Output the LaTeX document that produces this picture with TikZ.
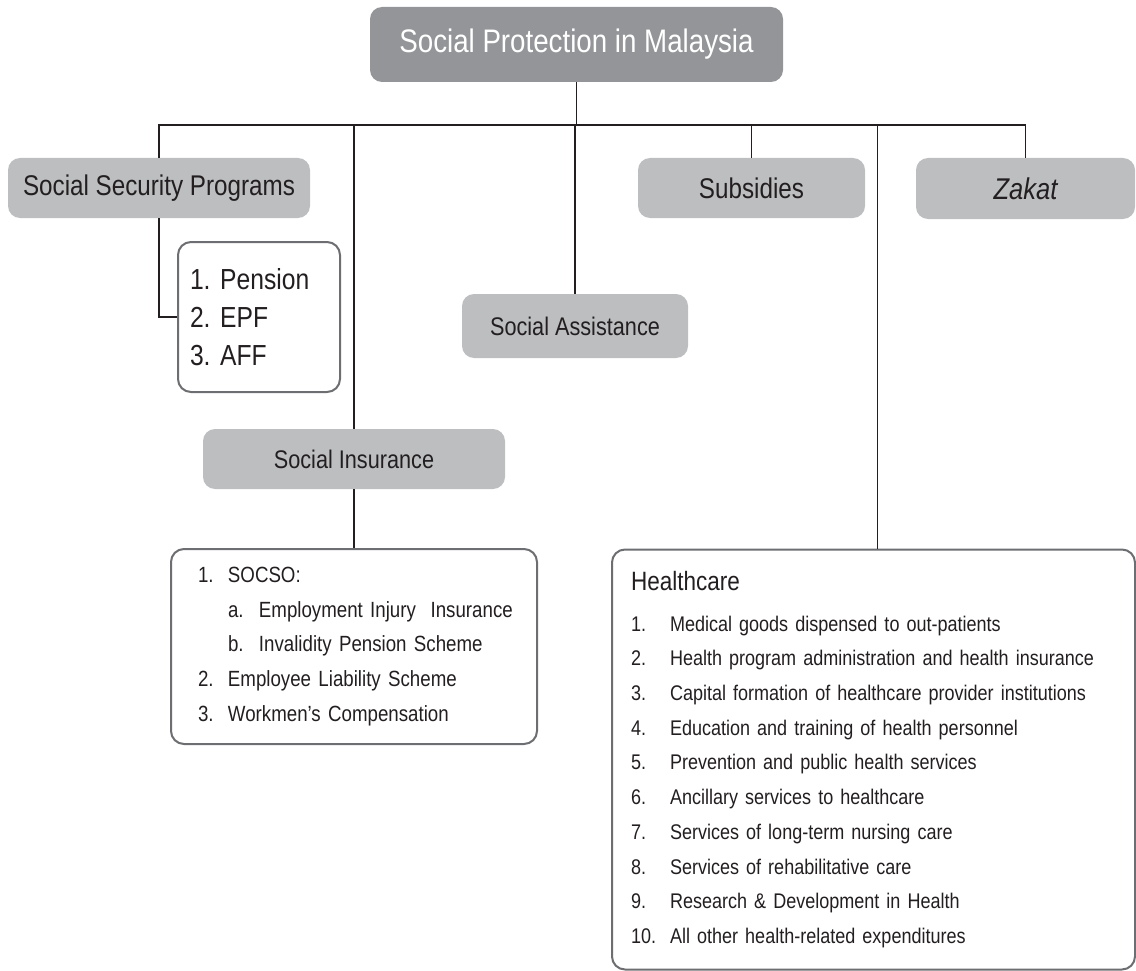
\documentclass[tikz,border=0pt]{standalone}
\usepackage{fontspec}
\setmainfont[FakeStretch=0.85]{Liberation Sans}
\definecolor{topgrey}{HTML}{939598}
\definecolor{boxgrey}{HTML}{BCBEC0}
\definecolor{framegrey}{HTML}{6D6E71}
\definecolor{ink}{HTML}{231F20}
\frenchspacing
\begin{document}
\begin{tikzpicture}[x=1pt,y=-1pt,
  greybox/.style={fill=boxgrey,rounded corners=12pt,inner sep=0pt,text=ink,
    font=\fontsize{28.5}{34}\selectfont},
  listbox/.style={draw=framegrey,line width=2pt,fill=white,rounded corners=13pt,
    align=left,text=ink,inner ysep=0pt},
  link/.style={draw=ink,line width=1.3pt}]
\useasboundingbox (0,0) rectangle (1136,971);
\node[greybox,fill=topgrey,text=white,minimum width=413pt,minimum height=75pt,
  font=\fontsize{32.6}{39}\selectfont] (SP) at (576.5,44.5) {Social Protection in Malaysia};
\coordinate (bus) at (SP.south |- 0,125);
\node[greybox,minimum width=302pt,minimum height=60pt] (SSP) at (159,188) {Social Security Programs};
\node[greybox,minimum width=227pt,minimum height=60pt] (SUB) at (751.5,188) {Subsidies};
\node[greybox,minimum width=219pt,minimum height=61pt,
  font=\fontsize{30}{34}\selectfont] (ZAK) at (1025.5,188.5) {\itshape Zakat};
\node[greybox,minimum width=226pt,minimum height=64pt,
  font=\fontsize{25.5}{30}\selectfont] (SA) at (575,326) {Social Assistance};
\node[greybox,minimum width=302pt,minimum height=60pt,
  font=\fontsize{25.5}{30}\selectfont] (SI) at (354,459) {Social Insurance};
% list boxes
\node[listbox,inner xsep=12pt,text width=138pt,minimum height=150pt,
  font=\fontsize{29}{38}\selectfont] (PEN) at (259,317)
  {1. Pension\\2. EPF\\3. AFF};
\node[listbox,inner xsep=27pt,text width=312pt,minimum height=195pt,
  font=\fontsize{22}{34.7}\selectfont] (SOC) at (354,646.5)
  {\mbox{\makebox[30pt][l]{1.}SOCSO:}\\
   \mbox{\hspace*{30pt}\makebox[31pt][l]{a.}Employment Injury\ \ Insurance}\\
   \mbox{\hspace*{30pt}\makebox[31pt][l]{b.}Invalidity Pension Scheme}\\
   \mbox{\makebox[30pt][l]{2.}Employee Liability Scheme}\\
   \mbox{\makebox[30pt][l]{3.}Workmen’s Compensation}};
\node[listbox,inner xsep=19pt,text width=485pt,minimum height=420pt,
  font=\fontsize{21.2}{34.7}\selectfont] (HC) at (873.5,759.5)
  {{\fontsize{26.5}{30}\selectfont Healthcare}\\[6pt]
   \makebox[39pt][l]{1.}Medical goods dispensed to out-patients\\
   \makebox[39pt][l]{2.}Health program administration and health insurance\\
   \makebox[39pt][l]{3.}Capital formation of healthcare provider institutions\\
   \makebox[39pt][l]{4.}Education and training of health personnel\\
   \makebox[39pt][l]{5.}Prevention and public health services\\
   \makebox[39pt][l]{6.}Ancillary services to healthcare\\
   \makebox[39pt][l]{7.}Services of long-term nursing care\\
   \makebox[39pt][l]{8.}Services of rehabilitative care\\
   \makebox[39pt][l]{9.}Research \& Development in Health\\
   \makebox[39pt][l]{10.}All other health-related expenditures};
% connectors
\draw[link] (SP.south) -- (bus);
\foreach \n in {SSP,SI,SA,SUB,ZAK}
  \draw[link] (bus) -| (\n.north);
\draw[link] (bus) -| ([xshift=4pt]HC.north);
\draw[link] (SSP.south) |- (PEN.west);
\draw[link] (SI.south) -- (SOC.north);
\end{tikzpicture}
\end{document}
